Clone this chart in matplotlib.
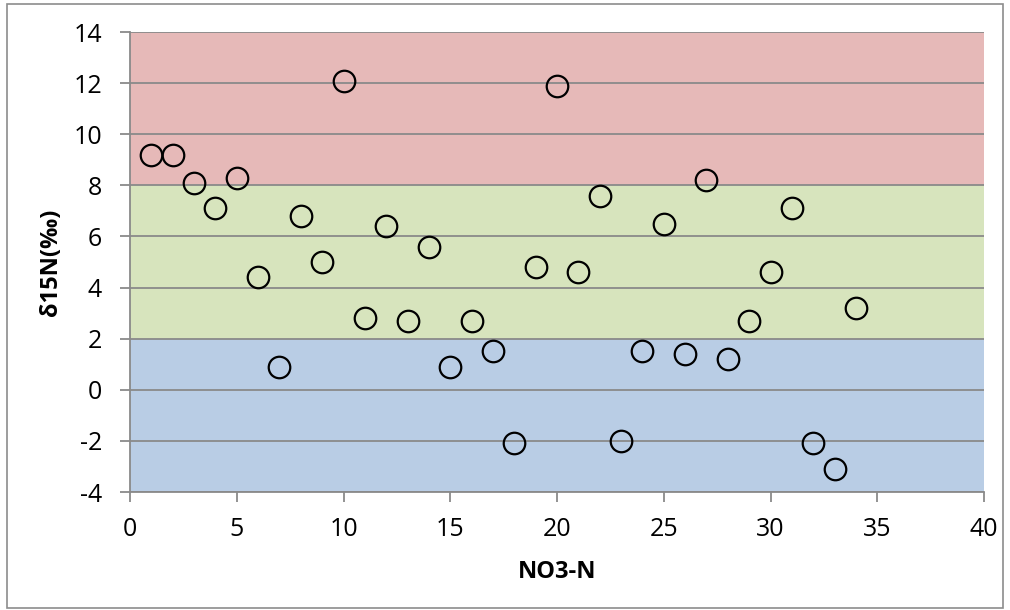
import matplotlib
matplotlib.use("Agg")
import matplotlib.pyplot as plt
from matplotlib.patches import Rectangle

# data
no3_n = [1, 2, 3, 4, 5, 6, 7, 8, 9, 10, 11, 12, 13, 14, 15, 16, 17,
         18, 19, 20, 21, 22, 23, 24, 25, 26, 27, 28, 29, 30, 31, 32, 33, 34]
d15n = [9.2, 9.2, 8.1, 7.1, 8.3, 4.4, 0.9, 6.8, 5.0, 12.1, 2.8, 6.4, 2.7, 5.6,
        0.9, 2.7, 1.5, -2.1, 4.8, 11.9, 4.6, 7.6, -2.0, 1.5, 6.5, 1.4, 8.2,
        1.2, 2.7, 4.6, 7.1, -2.1, -3.1, 3.2]

# bands: (low, high, colour)
bands = [(-4, 2, '#B9CDE5'), (2, 8, '#D7E4BD'), (8, 14, '#E6B9B8')]

plt.rcParams['font.family'] = ['Open Sans', 'DejaVu Sans']
plt.rcParams['axes.unicode_minus'] = False

fig = plt.figure(figsize=(10.1, 6.1), dpi=100)
fig.patches.append(Rectangle((0.007, 0.003), 0.986, 0.99, transform=fig.transFigure,
                             fill=False, edgecolor='#8c8c8c', linewidth=1.2))
ax = fig.add_axes([130/1010, 1 - 492/610, (984-130)/1010, (492-32)/610])

for lo, hi, c in bands:
    ax.axhspan(lo, hi, color=c, zorder=0, linewidth=0)

for yv in range(-4, 15, 2):
    ax.axhline(yv, color='#8a8a8a', linewidth=1.3, zorder=1)

ax.plot(no3_n, d15n, linestyle='none', marker='o', markersize=15.5,
        markerfacecolor='none', markeredgecolor='black', markeredgewidth=1.6, zorder=3)

ax.set_xlim(0, 40)
ax.set_ylim(-4, 14)
ax.set_xticks(range(0, 41, 5))
ax.set_yticks(range(-4, 15, 2))
for s in ['top', 'right']:
    ax.spines[s].set_visible(False)
for s in ['left', 'bottom']:
    ax.spines[s].set_color('#8a8a8a')
    ax.spines[s].set_linewidth(1.3)
ax.tick_params(axis='both', colors='#8a8a8a', labelcolor='black', labelsize=18,
               length=7, width=1.3)
ax.tick_params(axis='x', pad=11)
ax.tick_params(axis='y', pad=13)
ax.set_xlabel('NO3-N', fontsize=17, fontweight='bold')
ax.set_ylabel('δ15N(‰)', fontsize=17, fontweight='bold')
ax.xaxis.set_label_coords(0.5, -(560 - 492) / 460, transform=ax.transAxes)
ax.yaxis.set_label_coords(-(130 - 63) / 854, 0.5, transform=ax.transAxes)

fig.savefig('out.png', dpi=100)
